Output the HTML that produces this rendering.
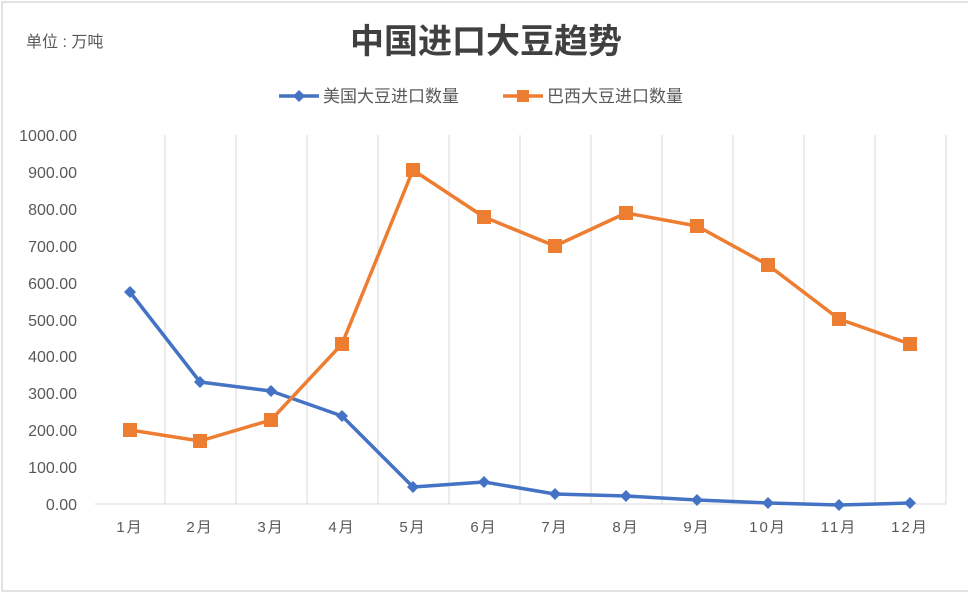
<!DOCTYPE html>
<html><head><meta charset="utf-8"><style>
html,body{margin:0;padding:0;background:#fff;}
svg{display:block;}
text{font-family:"Liberation Sans","Noto Sans CJK SC",sans-serif;}
</style></head><body>
<svg width="968" height="595" viewBox="0 0 968 595" xmlns="http://www.w3.org/2000/svg">
<rect x="2" y="2" width="975" height="589" fill="#fff" stroke="#d9d9d9" stroke-width="1.5"/>
<text x="26" y="47" font-size="16" fill="#595959">单位 : 万吨</text>
<text x="486" y="53" font-size="34" fill="#404040" text-anchor="middle" font-weight="bold">中国进口大豆趋势</text>
<line x1="279" y1="96" x2="319" y2="96" stroke="#4472c4" stroke-width="3.5"/>
<path d="M299 90 L305 96 L299 102 L293 96Z" fill="#4472c4"/>
<text x="323" y="102" font-size="17" fill="#595959">美国大豆进口数量</text>
<line x1="503" y1="96" x2="543" y2="96" stroke="#ed7d31" stroke-width="3.5"/>
<rect x="517" y="90" width="12" height="12" fill="#ed7d31"/>
<text x="547" y="102" font-size="17" fill="#595959">巴西大豆进口数量</text>
<g stroke="#d9d9d9" stroke-width="1">
<line x1="165" y1="135" x2="165" y2="504"/><line x1="236" y1="135" x2="236" y2="504"/>
<line x1="307" y1="135" x2="307" y2="504"/><line x1="378" y1="135" x2="378" y2="504"/>
<line x1="449" y1="135" x2="449" y2="504"/><line x1="520" y1="135" x2="520" y2="504"/>
<line x1="591" y1="135" x2="591" y2="504"/><line x1="662" y1="135" x2="662" y2="504"/>
<line x1="733" y1="135" x2="733" y2="504"/><line x1="804" y1="135" x2="804" y2="504"/>
<line x1="875" y1="135" x2="875" y2="504"/><line x1="946" y1="135" x2="946" y2="504"/>
<line x1="95" y1="504" x2="946" y2="504"/>
</g>
<g font-size="16" fill="#595959" text-anchor="end">
<text x="77" y="510">0.00</text><text x="77" y="473">100.00</text><text x="77" y="436">200.00</text>
<text x="77" y="399">300.00</text><text x="77" y="362">400.00</text><text x="77" y="326">500.00</text>
<text x="77" y="289">600.00</text><text x="77" y="252">700.00</text><text x="77" y="215">800.00</text>
<text x="77" y="178">900.00</text><text x="77" y="141">1000.00</text>
</g>
<g font-size="15" fill="#595959" text-anchor="middle" letter-spacing="2">
<text x="130" y="532">1月</text><text x="200" y="532">2月</text><text x="271" y="532">3月</text>
<text x="342" y="532">4月</text><text x="413" y="532">5月</text><text x="484" y="532">6月</text>
<text x="555" y="532">7月</text><text x="626" y="532">8月</text><text x="697" y="532">9月</text>
<text x="768" y="532">10月</text><text x="839" y="532">11月</text><text x="910" y="532">12月</text>
</g>
<polyline fill="none" stroke="#4472c4" stroke-width="3.5" stroke-linejoin="round" points="130,292 200,382 271,391 342,416 413,487 484,482 555,494 626,496 697,500 768,503 839,505 910,503"/>
<g fill="#4472c4">
<path d="M130 286l6 6-6 6-6-6z"/><path d="M200 376l6 6-6 6-6-6z"/><path d="M271 385l6 6-6 6-6-6z"/>
<path d="M342 410l6 6-6 6-6-6z"/><path d="M413 481l6 6-6 6-6-6z"/><path d="M484 476l6 6-6 6-6-6z"/>
<path d="M555 488l6 6-6 6-6-6z"/><path d="M626 490l6 6-6 6-6-6z"/><path d="M697 494l6 6-6 6-6-6z"/>
<path d="M768 497l6 6-6 6-6-6z"/><path d="M839 499l6 6-6 6-6-6z"/><path d="M910 497l6 6-6 6-6-6z"/>
</g>
<polyline fill="none" stroke="#ed7d31" stroke-width="3.5" stroke-linejoin="round" points="130,430 200,441 271,420 342,344 413,170 484,217 555,246 626,213 697,226 768,265 839,319 910,344"/>
<g fill="#ed7d31">
<rect x="123" y="423" width="14" height="14"/><rect x="193" y="434" width="14" height="14"/>
<rect x="264" y="413" width="14" height="14"/><rect x="335" y="337" width="14" height="14"/>
<rect x="406" y="163" width="14" height="14"/><rect x="477" y="210" width="14" height="14"/>
<rect x="548" y="239" width="14" height="14"/><rect x="619" y="206" width="14" height="14"/>
<rect x="690" y="219" width="14" height="14"/><rect x="761" y="258" width="14" height="14"/>
<rect x="832" y="312" width="14" height="14"/><rect x="903" y="337" width="14" height="14"/>
</g>
</svg>
</body></html>
